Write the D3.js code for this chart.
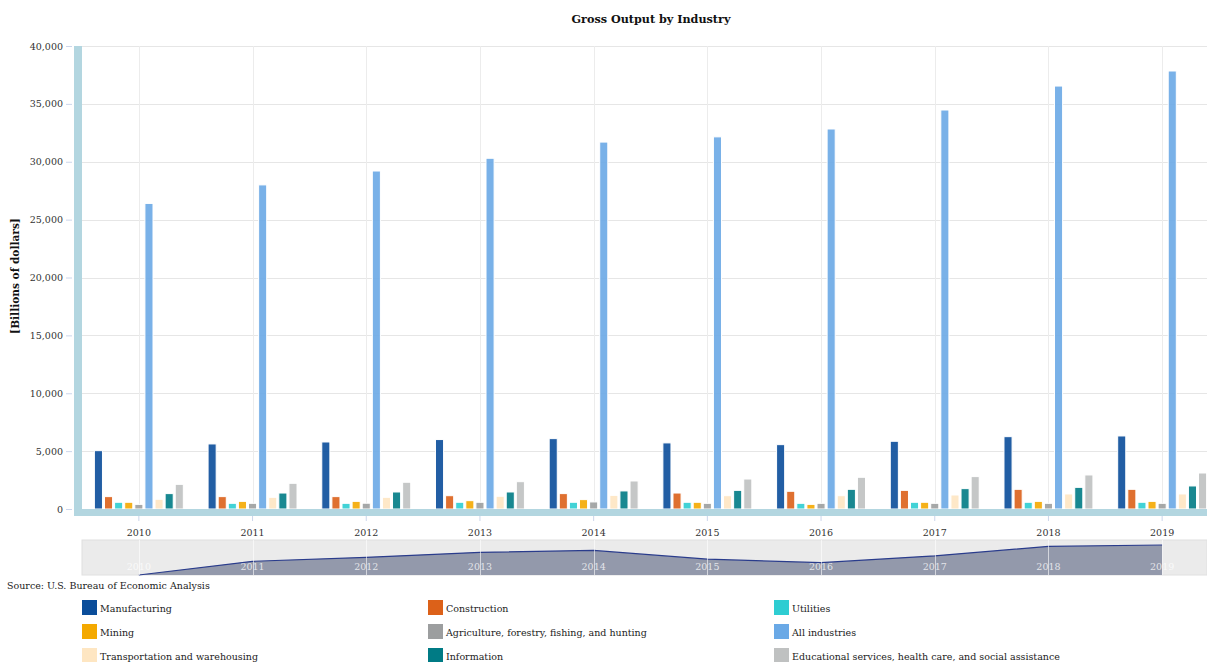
<!DOCTYPE html>
<html>
<head>
<meta charset="utf-8">
<script src="https://cdn.jsdelivr.net/npm/d3@7"></script>
<style>
  html, body { margin: 0; padding: 0; background: #fff; overflow: hidden; }
  svg { display: block; font-family: "DejaVu Serif", serif; }
</style>
</head>
<body>
<svg id="chart" width="1207" height="662"></svg>
<script>
// data (billions of dollars)
const years = ['2010', '2011', '2012', '2013', '2014', '2015', '2016', '2017', '2018', '2019'];
const seriesNames = [
  'Manufacturing', 'Construction', 'Utilities',
  'Mining', 'Agriculture, forestry, fishing, and hunting', 'All industries',
  'Transportation and warehousing', 'Information', 'Educational services, health care, and social assistance'
];
const seriesColors = ['#0a4d9a', '#dc6119', '#2ecdd2', '#f4a900', '#9c9e9f', '#6aa9e6', '#fee6c2', '#007b85', '#bfc1c1'];

const manufacturing = [5040, 5620, 5790, 6000, 6080, 5710, 5560, 5850, 6250, 6310];
const construction = [1070, 1070, 1070, 1150, 1330, 1380, 1530, 1610, 1700, 1700];
const utilities = [580, 490, 490, 580, 580, 580, 490, 580, 580, 580];
const mining = [580, 660, 660, 720, 810, 580, 400, 580, 660, 660];
const agriculture = [400, 490, 500, 580, 610, 490, 490, 490, 490, 490];
const allIndustries = [26400, 28000, 29200, 30300, 31700, 32150, 32830, 34470, 36540, 37840];
const transportation = [840, 1010, 1010, 1100, 1180, 1150, 1150, 1210, 1300, 1300];
const information = [1330, 1380, 1470, 1470, 1560, 1610, 1700, 1760, 1870, 1990];
const educational = [2130, 2220, 2310, 2360, 2420, 2590, 2740, 2800, 2940, 3110];

const seriesValues = [manufacturing, construction, utilities, mining, agriculture,
  allIndustries, transportation, information, educational];
const yTicks = [0, 5000, 10000, 15000, 20000, 25000, 30000, 35000, 40000];

(function () {
  const svg = d3.select('#chart');
  const plotLeft = 82, plotRight = 1219, plotTop = 46, plotBottom = 509;
  const fmt = d3.format(',');
  const small = 9.5;

  const x0 = d3.scaleBand().domain(years).range([plotLeft, plotRight]).padding(0);
  const bw = x0.bandwidth();
  const x1 = d3.scaleBand().domain(seriesNames).range([bw * 0.1, bw * 0.9]).paddingInner(0.2).paddingOuter(0.1);
  const y = d3.scaleLinear().domain([0, 40000]).range([plotBottom, plotTop]);
  const color = d3.scaleOrdinal().domain(seriesNames).range(seriesColors);

  // title
  svg.append('text')
    .attr('x', 651).attr('y', 23)
    .attr('text-anchor', 'middle')
    .attr('font-size', 11.2).attr('font-weight', 'bold').attr('fill', '#111')
    .text('Gross Output by Industry');

  // grid
  const grid = svg.append('g');
  grid.selectAll('line.h').data(yTicks).join('line').attr('class', 'h')
    .attr('x1', plotLeft).attr('x2', 1207)
    .attr('y1', (d) => Math.round(y(d)) + 0.5).attr('y2', (d) => Math.round(y(d)) + 0.5)
    .attr('stroke', '#e6e6e6');
  grid.selectAll('line.v').data(years).join('line').attr('class', 'v')
    .attr('x1', (d) => Math.round(x0(d) + bw / 2) + 0.5).attr('x2', (d) => Math.round(x0(d) + bw / 2) + 0.5)
    .attr('y1', plotTop).attr('y2', plotBottom)
    .attr('stroke', '#ececec');

  // y axis
  const yAxis = svg.append('g').attr('transform', 'translate(72,0)')
    .call(d3.axisLeft(y).tickValues(yTicks).tickFormat(fmt).tickSize(6).tickPadding(3));
  yAxis.select('.domain').remove();
  yAxis.selectAll('.tick line').attr('stroke', '#ccd6eb');
  yAxis.selectAll('.tick text').attr('font-family', '"DejaVu Serif", serif').attr('font-size', small).attr('fill', '#333');

  svg.append('text')
    .attr('transform', 'translate(19,276) rotate(-90)')
    .attr('text-anchor', 'middle')
    .attr('font-size', 10.6).attr('font-weight', 'bold').attr('fill', '#111')
    .text('[Billions of dollars]');

  // bars
  const groups = svg.append('g').selectAll('g').data(years).join('g')
    .attr('transform', (d) => `translate(${x0(d)},0)`);
  groups.selectAll('rect')
    .data((yr, i) => seriesNames.map((s, k) => ({ s, v: seriesValues[k][i] })))
    .join('rect')
    .attr('x', (d) => x1(d.s))
    .attr('width', x1.bandwidth())
    .attr('y', (d) => y(d.v))
    .attr('height', (d) => plotBottom - y(d.v))
    .attr('fill', (d) => color(d.s))
    .attr('fill-opacity', 0.9)
    .attr('stroke', '#fff').attr('stroke-width', 1);

  // thick axis lines
  svg.append('rect').attr('x', 74).attr('y', plotTop).attr('width', 8).attr('height', 470).attr('fill', '#b3d6e0');
  svg.append('rect').attr('x', plotLeft).attr('y', plotBottom).attr('width', 1207 - plotLeft).attr('height', 7).attr('fill', '#b3d6e0');

  // x axis
  const xAxis = svg.append('g').attr('transform', 'translate(0,516)')
    .call(d3.axisBottom(x0).tickSize(5).tickPadding(8));
  xAxis.select('.domain').remove();
  xAxis.selectAll('.tick line').attr('stroke', '#ccd6eb');
  xAxis.selectAll('.tick text').attr('font-family', '"DejaVu Serif", serif').attr('font-size', small).attr('fill', '#333');

  // navigator
  const navTop = 540, navBottom = 575;
  svg.append('rect').attr('x', plotLeft).attr('y', navTop).attr('width', 1207 - plotLeft).attr('height', navBottom - navTop)
    .attr('fill', '#ebebeb').attr('stroke', '#e0e0e0');
  const ny = d3.scaleLinear().domain(d3.extent(manufacturing)).range([navBottom, navTop + 5]);
  const nx = (d) => x0(d) + bw / 2;
  const navData = years.map((yr, i) => [nx(yr), manufacturing[i]]);
  svg.append('path')
    .datum(navData)
    .attr('d', d3.area().x((d) => d[0]).y0(navBottom).y1((d) => ny(d[1])))
    .attr('fill', '#9399ab');
  svg.append('path')
    .datum(navData)
    .attr('d', d3.line().x((d) => d[0]).y((d) => ny(d[1])))
    .attr('fill', 'none').attr('stroke', '#2a3c8c').attr('stroke-width', 1.2);
  const navLabels = svg.append('g');
  navLabels.selectAll('line').data(years).join('line')
    .attr('x1', (d) => Math.round(nx(d)) + 0.5).attr('x2', (d) => Math.round(nx(d)) + 0.5)
    .attr('y1', navTop).attr('y2', navBottom)
    .attr('stroke', '#fff').attr('stroke-opacity', 0.6);
  navLabels.selectAll('text').data(years).join('text')
    .attr('x', (d) => nx(d)).attr('y', 570)
    .attr('text-anchor', 'middle')
    .attr('font-size', small).attr('fill', '#fff').attr('fill-opacity', 0.75)
    .text((d) => d);

  // source
  svg.append('text').attr('x', 7).attr('y', 589)
    .attr('font-size', small).attr('fill', '#222')
    .text('Source: U.S. Bureau of Economic Analysis');

  // legend
  const legend = svg.append('g').selectAll('g').data(seriesNames).join('g')
    .attr('transform', (d, i) => `translate(${82 + (i % 3) * 346},${600 + Math.floor(i / 3) * 24})`);
  legend.append('rect').attr('width', 15).attr('height', 15).attr('fill', (d) => color(d));
  legend.append('text').attr('x', 18).attr('y', 11.5)
    .attr('font-size', small).attr('fill', '#222')
    .text((d) => d);
})();
</script>
</body>
</html>
